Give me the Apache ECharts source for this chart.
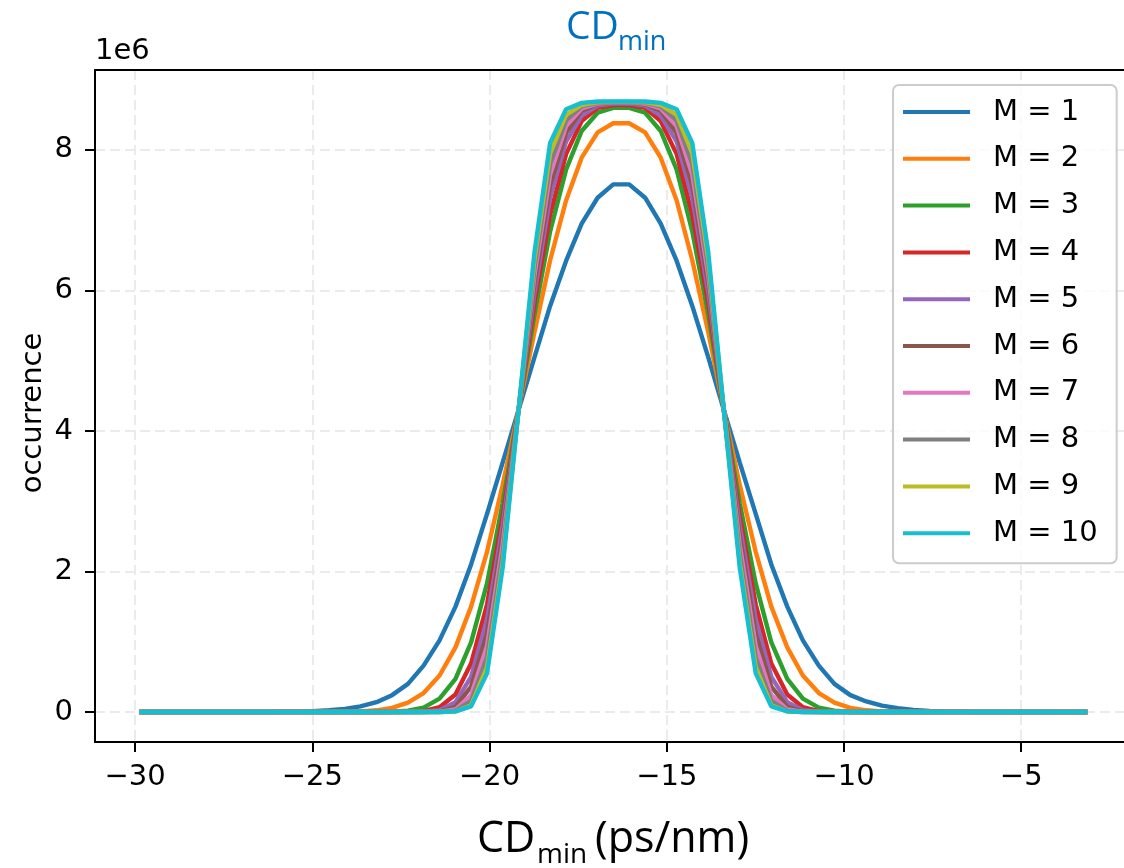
<!DOCTYPE html>
<html>
<head>
<meta charset="utf-8">
<script src="https://cdn.jsdelivr.net/npm/echarts@6/dist/echarts.min.js"></script>
<style>html,body{margin:0;padding:0;background:#fff}#c{width:1124px;height:868px}</style>
</head>
<body>
<div id="c"></div>
<script>
// CD_min bin positions (ps/nm)
const cdMin = [-29.88,-29.43,-28.99,-28.54,-28.10,-27.65,-27.20,-26.76,-26.31,-25.87,
  -25.42,-24.98,-24.53,-24.08,-23.64,-23.19,-22.75,-22.30,-21.86,-21.41,
  -20.96,-20.52,-20.07,-19.63,-19.18,-18.73,-18.29,-17.84,-17.40,-16.95,
  -16.51,-16.06,-15.61,-15.17,-14.72,-14.28,-13.83,-13.39,-12.94,-12.49,
  -12.05,-11.60,-11.16,-10.71,-10.27,-9.82,-9.37,-8.93,-8.48,-8.04,
  -7.59,-7.15,-6.70,-6.25,-5.81,-5.36,-4.92,-4.47,-4.03,-3.58,-3.13];

// occurrence values, in units of 1e6
const m1 = [0,0,0,0,0,0,0,0,0,
  0.003,0.006,0.012,0.025,0.045,0.08,0.14,0.24,0.40,0.66,1.02,1.50,2.10,2.82,3.55,4.30,5.05,5.78,6.42,6.95,7.32,7.51,
  7.51,7.32,6.95,6.42,5.78,5.05,4.30,3.55,2.82,2.10,1.50,1.02,0.66,0.40,0.24,0.15,0.09,0.055,0.03,0.016,0.008,0.004,
  0,0,0,0,0,0,0,0];
const m2 = [0,0,0,0,0,0,0,0,0,0,0,0,
  0.001,0.003,0.009,0.024,0.059,0.133,0.27,0.52,0.92,1.50,2.28,3.23,4.30,5.41,6.43,7.28,7.89,8.25,8.38,
  8.38,8.25,7.89,7.28,6.43,5.41,4.30,3.23,2.28,1.50,0.92,0.52,0.27,0.133,0.059,0.024,0.009,0.003,0.001,
  0,0,0,0,0,0,0,0,0,0,0];
const m3 = [0,0,0,0,0,0,0,0,0,0,0,0,0,0,0,
  0.001,0.004,0.018,0.063,0.19,0.47,0.99,1.83,2.97,4.30,5.66,6.84,7.72,8.27,8.53,8.60,
  8.60,8.53,8.27,7.72,6.84,5.66,4.30,2.97,1.83,0.99,0.47,0.19,0.063,0.018,0.004,0.001,
  0,0,0,0,0,0,0,0,0,0,0,0,0,0];
const m4 = [0,0,0,0,0,0,0,0,0,0,0,0,0,0,0,0,0,
  0.002,0.014,0.068,0.25,0.69,1.53,2.78,4.30,5.83,7.08,7.94,8.41,8.60,8.64,
  8.64,8.60,8.41,7.94,7.08,5.83,4.30,2.78,1.53,0.69,0.25,0.068,0.014,0.002,
  0,0,0,0,0,0,0,0,0,0,0,0,0,0,0,0];
const m5 = [0,0,0,0,0,0,0,0,0,0,0,0,0,0,0,0,0,0,
  0.003,0.027,0.14,0.50,1.32,2.65,4.30,5.97,7.32,8.12,8.49,8.63,8.66,
  8.66,8.63,8.49,8.12,7.32,5.97,4.30,2.65,1.32,0.50,0.14,0.027,0.003,
  0,0,0,0,0,0,0,0,0,0,0,0,0,0,0,0,0];
const m6 = [0,0,0,0,0,0,0,0,0,0,0,0,0,0,0,0,0,0,0,
  0.009,0.074,0.36,1.12,2.51,4.30,6.10,7.50,8.24,8.56,8.65,8.67,
  8.67,8.65,8.56,8.24,7.50,6.10,4.30,2.51,1.12,0.36,0.074,0.009,
  0,0,0,0,0,0,0,0,0,0,0,0,0,0,0,0,0,0];
const m7 = [0,0,0,0,0,0,0,0,0,0,0,0,0,0,0,0,0,0,0,
  0.003,0.035,0.24,0.94,2.38,4.30,6.22,7.65,8.34,8.59,8.66,8.675,
  8.675,8.66,8.59,8.34,7.65,6.22,4.30,2.38,0.94,0.24,0.035,0.003,
  0,0,0,0,0,0,0,0,0,0,0,0,0,0,0,0,0,0];
const m8 = [0,0,0,0,0,0,0,0,0,0,0,0,0,0,0,0,0,0,0,
  0.001,0.015,0.157,0.78,2.25,4.30,6.33,7.80,8.42,8.62,8.67,8.68,
  8.68,8.67,8.62,8.42,7.80,6.33,4.30,2.25,0.78,0.157,0.015,0.001,
  0,0,0,0,0,0,0,0,0,0,0,0,0,0,0,0,0,0];
const m9 = [0,0,0,0,0,0,0,0,0,0,0,0,0,0,0,0,0,0,0,0,
  0.006,0.096,0.64,2.12,4.30,6.45,7.95,8.50,8.64,8.68,8.685,
  8.685,8.68,8.64,8.50,7.95,6.45,4.30,2.12,0.64,0.096,0.006,
  0,0,0,0,0,0,0,0,0,0,0,0,0,0,0,0,0,0,0];
const m10 = [0,0,0,0,0,0,0,0,0,0,0,0,0,0,0,0,0,0,0,0,
  0.01,0.08,0.55,2.05,4.30,6.55,8.10,8.58,8.67,8.69,8.69,
  8.69,8.69,8.67,8.58,8.10,6.55,4.30,2.05,0.55,0.08,0.01,
  0,0,0,0,0,0,0,0,0,0,0,0,0,0,0,0,0,0,0];

const seriesNames = ['M = 1','M = 2','M = 3','M = 4','M = 5','M = 6','M = 7','M = 8','M = 9','M = 10'];
const colors = ['#1f77b4','#ff7f0e','#2ca02c','#d62728','#9467bd','#8c564b','#e377c2','#7f7f7f','#bcbd22','#17becf'];
const xTicks = [-30,-25,-20,-15,-10,-5];
const yTicks = [0,2,4,6,8];

const allY = [m1,m2,m3,m4,m5,m6,m7,m8,m9,m10];
const FONT = 'DejaVu Sans';
const TFONT = 'Open Sans';

const series = allY.map((ys, k) => ({
  name: seriesNames[k],
  type: 'line',
  xAxisIndex: 0,
  showSymbol: false,
  symbol: 'none',
  data: cdMin.map((x, i) => [x, ys[i]]),
  lineStyle: { width: 4.4, color: colors[k] },
  itemStyle: { color: colors[k] },
  emphasis: { disabled: true },
  z: 2 + k
}));

const fmtX = v => (v < 0 ? '\u2212' + (-v) : String(v));
const XMIN = -31.13, XMAX = -2.10;

const option = {
  animation: false,
  grid: { left: 95, top: 70, right: 0, bottom: 126, show: false },
  xAxis: [{
    type: 'value', min: XMIN, max: XMAX, position: 'bottom',
    axisLine: { show: true, onZero: false, lineStyle: { color: '#000', width: 2 } },
    axisTick: { show: true, customValues: xTicks, length: 10, lineStyle: { color: '#000', width: 2 } },
    axisLabel: { customValues: xTicks, formatter: fmtX, color: '#000', fontFamily: FONT, fontSize: 29, margin: 21 },
    splitLine: { show: true, lineStyle: { color: '#ebebeb', width: 2, type: [10, 5] } }
  }, {
    type: 'value', min: XMIN, max: XMAX, position: 'top',
    axisLine: { show: true, onZero: false, lineStyle: { color: '#000', width: 2 } },
    axisTick: { show: false }, axisLabel: { show: false }, splitLine: { show: false }
  }],
  yAxis: {
    type: 'value', min: -0.427, max: 9.138,
    axisLine: { show: true, onZero: false, lineStyle: { color: '#000', width: 2 } },
    axisTick: { show: true, customValues: yTicks, length: 10, lineStyle: { color: '#000', width: 2 } },
    axisLabel: { customValues: yTicks, formatter: v => String(v), color: '#000', fontFamily: FONT, fontSize: 29, margin: 22 },
    splitLine: { show: true, lineStyle: { color: '#ebebeb', width: 2, type: [10, 5] } }
  },
  legend: {
    orient: 'vertical', left: 893, top: 85,
    icon: 'rect', itemWidth: 67, itemHeight: 4, itemGap: 16.8,
    padding: [12, 19, 15, 10],
    backgroundColor: 'rgba(255,255,255,0.8)', borderColor: '#cccccc', borderWidth: 2, borderRadius: 6,
    textStyle: { fontFamily: FONT, fontSize: 29, color: '#000', lineHeight: 30, padding: [0, 0, 0, 18] },
    selectedMode: false,
    data: seriesNames
  },
  graphic: [
    { type: 'text', x: 95, y: 51, style: { text: '1e6', fontFamily: FONT, fontSize: 29, fill: '#000', align: 'left', verticalAlign: 'middle' } },
    { type: 'text', x: 33, y: 413, rotation: Math.PI / 2, style: { text: 'occurrence', fontFamily: FONT, fontSize: 29, fill: '#000', align: 'center', verticalAlign: 'middle' } },
    { type: 'text', x: 566, y: 28, style: { text: 'CD', fontFamily: TFONT, fontSize: 39, fill: '#0070c0', align: 'left', verticalAlign: 'middle' } },
    { type: 'text', x: 618, y: 42, style: { text: 'min', fontFamily: TFONT, fontSize: 27, fill: '#0070c0', align: 'left', verticalAlign: 'middle' } },
    { type: 'text', x: 477, y: 840, style: { text: 'CD', fontFamily: TFONT, fontSize: 43, fill: '#000', align: 'left', verticalAlign: 'middle' } },
    { type: 'text', x: 537, y: 855, style: { text: 'min', fontFamily: TFONT, fontSize: 28, fill: '#000', align: 'left', verticalAlign: 'middle' } },
    { type: 'text', x: 595, y: 840, style: { text: '(ps/nm)', fontFamily: TFONT, fontSize: 43, fill: '#000', align: 'left', verticalAlign: 'middle' } }
  ],
  series: series
};

const chart = echarts.init(document.getElementById('c'), null, { renderer: 'canvas' });
chart.setOption(option);
</script>
</body>
</html>
